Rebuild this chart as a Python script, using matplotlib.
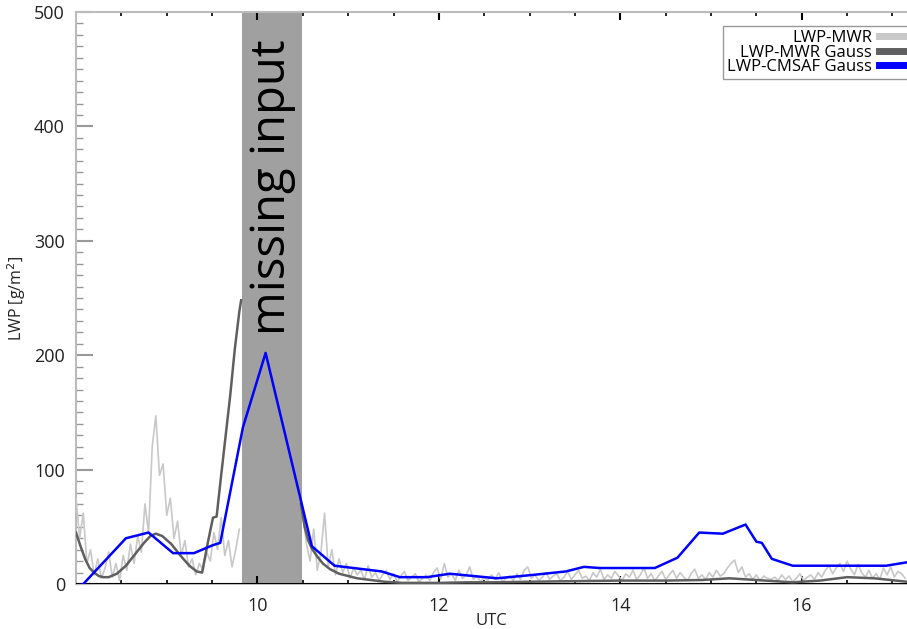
import numpy as np
import matplotlib.pyplot as plt
from matplotlib.ticker import MultipleLocator

plt.rcParams['font.family'] = ['Open Sans', 'DejaVu Sans']

# raw microwave radiometer LWP, two pieces around the data gap (step 0.04 h)
mwr_t1 = np.arange(8.00, 9.801, 0.04)
mwr_v1 = [75, 40, 62, 18, 30, 8, 22, 5, 14, 28,
          6, 18, 3, 25, 12, 35, 18, 42, 28, 70,
          45, 120, 147, 95, 105, 60, 75, 40, 55, 25,
          38, 15, 22, 8, 18, 12, 28, 20, 45, 30,
          58, 25, 38, 15, 30, 48]
mwr_t2 = np.arange(10.50, 17.141, 0.04)
mwr_v2 = [60, 35, 20, 48, 12, 28, 62, 15, 30, 8,
          22, 10, 18, 5, 14, 8, 12, 4, 16, 6,
          10, 3, 8, 12, 4, 9, 2, 7, 11, 3,
          6, 9, 2, 5, 8, 3, 10, 14, 4, 18,
          6, 9, 3, 12, 5, 8, 15, 4, 7, 2,
          6, 3, 8, 4, 10, 2, 5, 7, 3, 9,
          4, 12, 15, 5, 8, 3, 6, 10, 4, 7,
          9, 3, 6, 11, 4, 8, 12, 5, 7, 3,
          10, 6, 13, 4, 8, 5, 11, 7, 3, 9,
          6, 12, 4, 8, 14, 5, 9, 3, 7, 11,
          4, 8, 12, 5, 10, 6, 3, 9, 13, 5,
          8, 4, 10, 6, 12, 7, 9, 14, 18, 21,
          10, 15, 6, 9, 4, 8, 3, 7, 5, 4,
          6, 3, 8, 4, 7, 2, 5, 9, 3, 6,
          8, 4, 10, 6, 12, 16, 9, 14, 18, 11,
          20, 13, 8, 17, 10, 6, 12, 5, 9, 4,
          14, 8, 15, 6, 11, 9, 5]

# gauss-filtered MWR
gauss_t1 = [8.00, 8.05, 8.10, 8.15, 8.20, 8.25, 8.30, 8.36, 8.45, 8.55,
            8.65, 8.75, 8.82, 8.88, 8.95, 9.05, 9.15, 9.25, 9.33, 9.39,
            9.45, 9.51, 9.55, 9.60, 9.65, 9.70, 9.75, 9.80, 9.82]
gauss_v1 = [45, 33, 22, 14, 10, 7, 6, 6, 9, 16,
            26, 36, 42, 44, 42, 35, 25, 16, 11, 10,
            35, 58, 59, 95, 130, 165, 205, 238, 248]
gauss_t2 = [10.48, 10.52, 10.56, 10.60, 10.66, 10.72, 10.80, 10.90, 11.00, 11.10,
            11.20, 11.40, 11.60, 11.80, 12.00, 12.30, 12.60, 13.00, 13.50, 14.00,
            14.50, 14.90, 15.20, 15.50, 15.90, 16.20, 16.50, 16.80, 17.16]
gauss_v2 = [70, 50, 38, 31, 24, 18, 13, 9, 7, 5,
            4, 2, 1, 1, 1, 1.5, 1.5, 2, 2.5, 3,
            3, 3.5, 5, 3.5, 1.5, 3, 6, 5, 2]

# CM SAF gauss-filtered LWP
cmsaf_t = [8.00, 8.08, 8.55, 8.80, 9.07, 9.30, 9.51, 9.59, 9.84, 10.09,
           10.60, 10.85, 11.37, 11.57, 11.87, 12.12, 12.64, 13.04, 13.40, 13.60,
           13.77, 14.38, 14.63, 14.87, 15.13, 15.38, 15.50, 15.56, 15.67, 15.90,
           16.93, 17.16]
cmsaf_v = [-2, 0, 40, 45, 27, 27, 34, 36, 137, 202,
           33, 16, 11, 6, 6, 9, 5, 8, 11, 15,
           14, 14, 23, 45, 44, 52, 37, 36, 22, 16,
           16, 19]

gap_start, gap_end = 9.83, 10.49

fig = plt.figure(figsize=(9.07, 6.29), dpi=100)
ax = fig.add_axes([0.0838, 0.0715, 0.9162, 0.9094])

ax.axvspan(gap_start, gap_end, color='#a0a0a0', lw=0, zorder=1)
ax.text((gap_start + gap_end) / 2, 347, 'missing input', rotation=90,
        ha='center', va='center', fontsize=34, color='black', zorder=2)

l1, = ax.plot(mwr_t1, mwr_v1, color='#c8c8c8', lw=1.2, zorder=3)
ax.plot(mwr_t2, mwr_v2, color='#c8c8c8', lw=1.2, zorder=3)
ax.plot([8.0, 17.2], [0, 0], color='black', lw=1.5, zorder=4)
l2, = ax.plot(gauss_t1, gauss_v1, color='#5f5f5f', lw=1.8, zorder=5)
ax.plot(gauss_t2, gauss_v2, color='#5f5f5f', lw=1.8, zorder=5)
l3, = ax.plot(cmsaf_t, cmsaf_v, color='#0000ff', lw=1.8, zorder=6)

ax.set_xlim(8.0, 17.16)
ax.set_ylim(0, 500)
ax.xaxis.set_major_locator(MultipleLocator(2))
ax.xaxis.set_minor_locator(MultipleLocator(0.5))
ax.yaxis.set_major_locator(MultipleLocator(100))
ax.yaxis.set_minor_locator(MultipleLocator(10))
ax.set_xticks([10, 12, 14, 16])

ax.tick_params(axis='x', which='both', direction='in', top=True, colors='black',
               labelcolor='#222222', labelsize=13, pad=9)
ax.tick_params(axis='x', which='major', length=6, width=1.5)
ax.tick_params(axis='x', which='minor', length=3, width=1.2)
ax.tick_params(axis='y', which='both', direction='in', color='#999999',
               labelcolor='#222222', labelsize=13, pad=8)
ax.tick_params(axis='y', which='major', length=12, width=1.5)
ax.tick_params(axis='y', which='minor', length=5, width=1)

for s in ['left', 'top', 'bottom']:
    ax.spines[s].set_color('#bbbbbb')
    ax.spines[s].set_linewidth(1.5)
ax.spines['right'].set_visible(False)

ax.set_xlabel('UTC', fontsize=12, color='#222222', labelpad=-1)
ax.set_ylabel('LWP [g/m$^2$]', fontsize=11.5, color='#222222', labelpad=4)

leg = ax.legend([l1, l2, l3], ['LWP-MWR', 'LWP-MWR Gauss', 'LWP-CMSAF Gauss'],
                loc='upper right', bbox_to_anchor=(1.041, 0.99), markerfirst=False,
                fontsize=12, labelspacing=-0.1, handlelength=3.0, handletextpad=0.4,
                borderpad=0.25, fancybox=False, framealpha=1, edgecolor='#999999')
for h in leg.legend_handles:
    h.set_linewidth(5)
for t in leg.get_texts():
    t.set_ha('right')

fig.savefig('out.png', dpi=100)
